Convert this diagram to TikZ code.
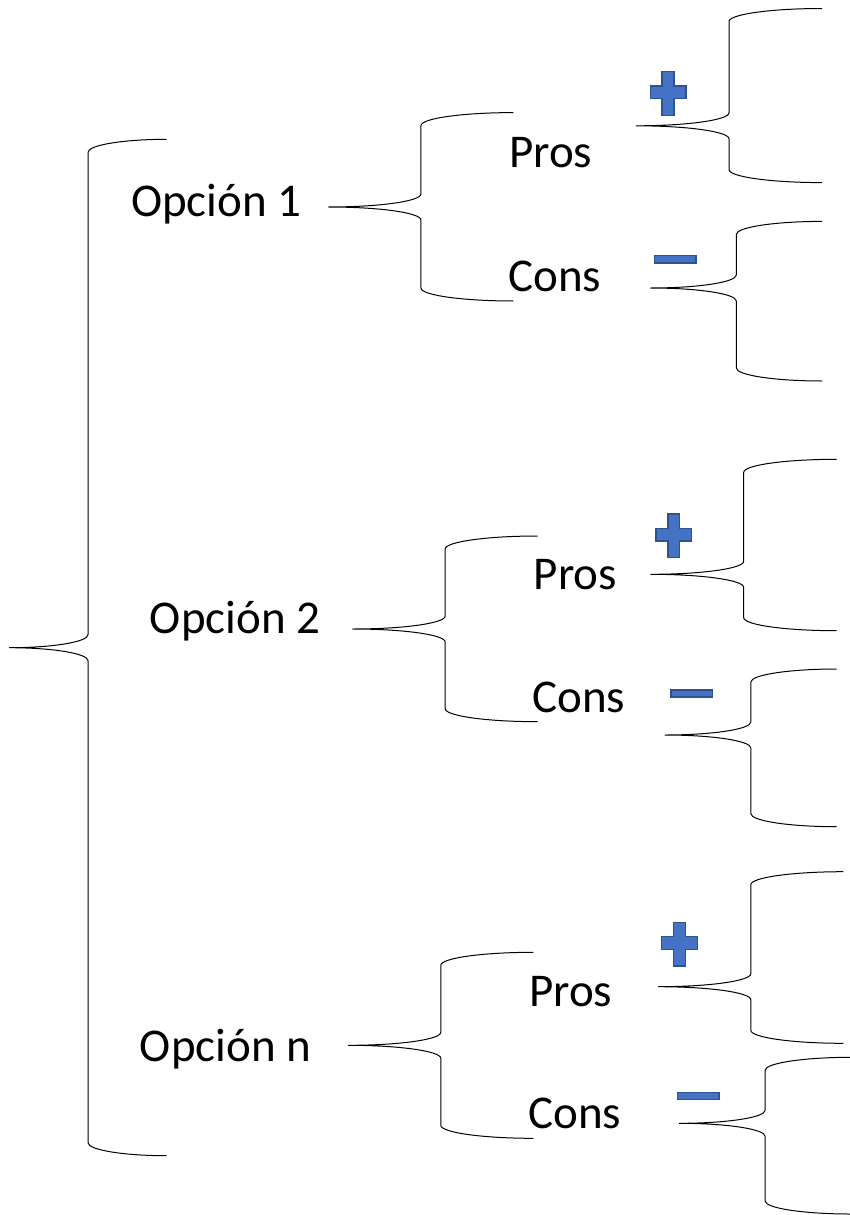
\documentclass[tikz,border=0pt]{standalone}
\usepackage{fontspec}
\setmainfont{Carlito}
\definecolor{iconfill}{HTML}{4472C4}
\definecolor{iconline}{HTML}{2F528F}
\tikzset{
  lbl/.style={anchor=base west, inner sep=0pt, font=\fontsize{47}{51}\selectfont},
  bracket/.style={line width=1pt, black, line join=round},
  icon/.style={fill=iconfill, draw=iconline, line width=1.4pt},
  plussign/.pic={
    \filldraw[icon] (-5.9,-21.8) -- (5.9,-21.8) -- (5.9,-7.6) -- (17.8,-7.6) -- (17.8,5.0)
      -- (5.9,5.0) -- (5.9,21.8) -- (-5.9,21.8) -- (-5.9,5.0) -- (-17.8,5.0) -- (-17.8,-7.6)
      -- (-5.9,-7.6) -- cycle;
  },
  minussign/.pic={
    \filldraw[icon] (-20.8,-3.6) rectangle (20.8,3.6);
  }
}
% #1 right x, #2 tip x, #3 top y, #4 tip y, #5 bottom y, #6 corner height
\newcommand{\mybrace}[6]{%
  \pgfmathsetmacro\bhc{(#1+#2)/2}%
  \pgfmathsetmacro\brx{0.5523*(#1-#2)/2}%
  \pgfmathsetmacro\bry{0.5523*#6}%
  \draw[bracket] (#1,#3) .. controls ({#1-\brx},#3) and (\bhc,{#3+#6-\bry}) .. (\bhc,{#3+#6})
    -- (\bhc,{#4-#6}) .. controls (\bhc,{#4-#6+\bry}) and ({#2+\brx},#4) .. (#2,#4)
    .. controls ({#2+\brx},#4) and (\bhc,{#4+#6-\bry}) .. (\bhc,{#4+#6})
    -- (\bhc,{#5-#6}) .. controls (\bhc,{#5-#6+\bry}) and ({#1-\brx},#5) .. (#1,#5);
}
\begin{document}
\begin{tikzpicture}[x=1pt,y=-1pt]
\useasboundingbox (0,0) rectangle (850,1215);
\fill[white] (0,0) rectangle (850,1215);

% main brace
\mybrace{166.7}{9.3}{139.3}{647.7}{1155.7}{13}

% option labels
\node[lbl] (op1) at (131,216.7) {Opción 1};
\node[lbl] (op2) at (149.7,633.3) {Opción 2};
\node[lbl] (opn) at (139.7,1061.7) {Opción n};

% second-level braces
\mybrace{513.4}{328.5}{112.6}{207}{301}{13}
\mybrace{537.7}{352.7}{536}{629}{721.7}{13}
\mybrace{533.3}{348.3}{952.3}{1045.3}{1138.3}{13}

% pros / cons labels
\node[lbl] (pros1) at (509,167) {Pros};
\node[lbl] (cons1) at (508,291) {Cons};
\node[lbl] (pros2) at (533.5,589.3) {Pros};
\node[lbl] (cons2) at (532,712.7) {Cons};
\node[lbl] (prosn) at (529,1006.7) {Pros};
\node[lbl] (consn) at (528,1128.3) {Cons};

% third-level braces
\mybrace{822}{636}{8.5}{125.8}{182.6}{13}
\mybrace{822}{650.6}{221.4}{288}{381}{13}
\mybrace{836.7}{650.7}{459.3}{574.3}{630.7}{13}
\mybrace{836.7}{665}{669}{735}{826.7}{13}
\mybrace{843.3}{658.3}{871.7}{986.7}{1043.3}{13}
\mybrace{851}{679.3}{1057.3}{1123.3}{1214}{13}

% icons
\pic at (668,93.5) {plussign};
\pic at (673.7,535.8) {plussign};
\pic at (679.5,944.2) {plussign};
\pic at (675,259.3) {minussign};
\pic at (691.7,693.5) {minussign};
\pic at (698.3,1095.8) {minussign};
\end{tikzpicture}
\end{document}
